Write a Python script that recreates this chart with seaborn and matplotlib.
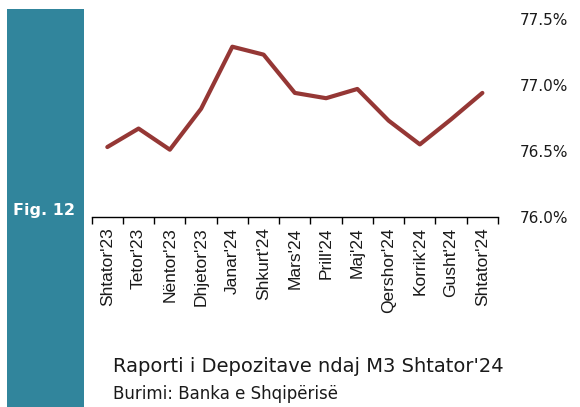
import numpy as np
import pandas as pd
import matplotlib
matplotlib.use("Agg")
import matplotlib.pyplot as plt
import seaborn as sns
from matplotlib.patches import Rectangle
from matplotlib.ticker import FixedLocator, FuncFormatter

months = ["Shtator'23", "Tetor'23", "Nëntor'23", "Dhjetor'23", "Janar'24", "Shkurt'24",
          "Mars'24", "Prill'24", "Maj'24", "Qershor'24", "Korrik'24", "Gusht'24", "Shtator'24"]
ratio = [76.53, 76.67, 76.51, 76.82, 77.29, 77.23, 76.94, 76.90, 76.97, 76.73, 76.55, 76.74, 76.94]
y_ticks = [76.0, 76.5, 77.0, 77.5]
title = "Raporti i Depozitave ndaj M3 Shtator'24"
source = "Burimi: Banka e Shqipërisë"
fig_label = "Fig. 12"

sns.set_style("white")
plt.rcParams['font.family'] = ['DejaVu Sans']

df = pd.DataFrame({"month": months, "ratio": ratio})

fig = plt.figure(figsize=(5.8, 4.07), dpi=100)
W, H = 580, 407

# teal side band
fig.patches.append(Rectangle((7 / W, 0), (84 - 7) / W, 1 - 9 / H, transform=fig.transFigure,
                             facecolor="#31859C", edgecolor="none", zorder=0))
fig.text(44 / W, 1 - 211 / H, fig_label, color="white", fontsize=11.5, fontweight="bold",
         ha="center", va="center")

ax = fig.add_axes([91.7 / W, 1 - 217 / H, (498 - 91.7) / W, (217 - 19) / H])
ax.set_facecolor("none")
sns.lineplot(data=df, x="month", y="ratio", ax=ax, color="#953735", linewidth=3.0,
             sort=False, solid_capstyle="round")

ax.set_xlim(-0.5, len(months) - 0.5)
ax.set_ylim(y_ticks[0], y_ticks[-1])
ax.set_xlabel("")
ax.set_ylabel("")

for s in ["top", "left", "right"]:
    ax.spines[s].set_visible(False)
ax.spines["bottom"].set_color("black")
ax.spines["bottom"].set_linewidth(1.0)

ax.set_xticks(np.arange(len(months)))
ax.set_xticklabels(months, rotation=90, fontsize=12.5,
                   family=['Liberation Sans', 'DejaVu Sans'],
                   va="top", ha="center", color="#1a1a1a")
ax.xaxis.set_minor_locator(FixedLocator(np.arange(-0.5, len(months), 1.0)))
ax.tick_params(axis="x", which="major", length=0, pad=7.5)
ax.tick_params(axis="x", which="minor", length=5, width=1.0, color="black", direction="out", bottom=True)

ax.yaxis.tick_right()
ax.set_yticks(y_ticks)
ax.yaxis.set_major_formatter(FuncFormatter(lambda v, p: f"{v:.1f}%"))
ax.tick_params(axis="y", which="both", length=0, pad=16, labelsize=11, labelcolor="#1a1a1a")
ax.grid(False)

fig.text(113 / W, 1 - 366 / H, title, fontsize=14, ha="left", va="center", color="#1a1a1a")
fig.text(113 / W, 1 - 394 / H, source, fontsize=12, ha="left", va="center", color="#1a1a1a")

fig.savefig("out.png", dpi=100)
